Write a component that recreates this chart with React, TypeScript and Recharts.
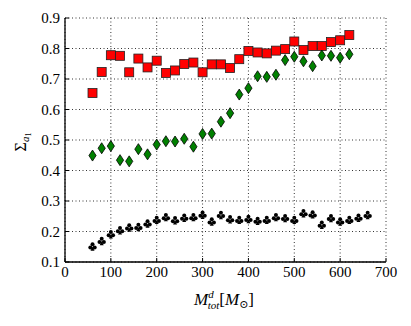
import { ScatterChart, Scatter, XAxis, YAxis, CartesianGrid } from 'recharts'

// red squares
const massRed = [60, 80, 100, 120, 140, 160, 180, 200, 220, 240, 260, 280, 300, 320, 340, 360, 380, 400, 420, 440, 460, 480, 500, 520, 540, 560, 580, 600, 620]
const sigmaRed = [0.654, 0.723, 0.778, 0.776, 0.722, 0.767, 0.738, 0.76, 0.72, 0.728, 0.749, 0.754, 0.722, 0.748, 0.748, 0.736, 0.765, 0.792, 0.787, 0.784, 0.793, 0.798, 0.823, 0.795, 0.808, 0.808, 0.821, 0.827, 0.844]

// green diamonds
const massGreen = [60, 80, 100, 120, 140, 160, 180, 200, 220, 240, 260, 280, 300, 320, 340, 360, 380, 400, 420, 440, 460, 480, 500, 520, 540, 560, 580, 600, 620]
const sigmaGreen = [0.449, 0.473, 0.48, 0.434, 0.43, 0.47, 0.453, 0.485, 0.496, 0.495, 0.504, 0.478, 0.52, 0.521, 0.56, 0.588, 0.649, 0.67, 0.709, 0.707, 0.714, 0.762, 0.773, 0.758, 0.742, 0.777, 0.776, 0.77, 0.781]

// black clubs
const massBlack = [60, 80, 100, 120, 140, 160, 180, 200, 220, 240, 260, 280, 300, 320, 340, 360, 380, 400, 420, 440, 460, 480, 500, 520, 540, 560, 580, 600, 620, 640, 660]
const sigmaBlack = [0.151, 0.169, 0.191, 0.204, 0.213, 0.215, 0.226, 0.238, 0.247, 0.237, 0.245, 0.247, 0.255, 0.233, 0.254, 0.24, 0.238, 0.241, 0.235, 0.238, 0.247, 0.244, 0.238, 0.26, 0.256, 0.222, 0.244, 0.233, 0.238, 0.245, 0.254]

const xTicks = [0, 100, 200, 300, 400, 500, 600, 700]
const yTicks = [0.1, 0.2, 0.3, 0.4, 0.5, 0.6, 0.7, 0.8, 0.9]

const toPoints = (xs: number[], ys: number[]) => xs.map((x, i) => ({ x, y: ys[i] }))

const FONT = "'Liberation Serif', 'Times New Roman', 'DejaVu Serif', serif"

const Square = (props: any) => {
  const { cx, cy } = props
  return <rect x={cx - 4.5} y={cy - 4.5} width={9} height={9} fill="#ff0000" stroke="#222" strokeWidth={0.8} />
}

const Diamond = (props: any) => {
  const { cx, cy } = props
  return (
    <polygon
      points={`${cx},${cy - 5.5} ${cx + 3.6},${cy} ${cx},${cy + 5.5} ${cx - 3.6},${cy}`}
      fill="#008000"
      stroke="#000"
      strokeWidth={0.8}
    />
  )
}

const Club = (props: any) => {
  const { cx, cy } = props
  return (
    <g fill="#000">
      <circle cx={cx} cy={cy - 2.2} r={2} />
      <circle cx={cx - 2.2} cy={cy + 1} r={2} />
      <circle cx={cx + 2.2} cy={cy + 1} r={2} />
      <polygon points={`${cx},${cy} ${cx - 2},${cy + 4.2} ${cx + 2},${cy + 4.2}`} />
    </g>
  )
}

const XLabel = () => (
  <text x={224} y={305} textAnchor="middle" style={{ fontFamily: FONT }} fontSize={17} fill="#000">
    <tspan fontStyle="italic">M</tspan>
    <tspan fontStyle="italic" fontSize={11} dy={-7}>d</tspan>
    <tspan fontStyle="italic" fontSize={11} dx={-6} dy={11}>tot</tspan>
    <tspan dy={-4}>[</tspan>
    <tspan fontStyle="italic">M</tspan>
    <tspan fontSize={11} dy={3}>⊙</tspan>
    <tspan dy={-3}>]</tspan>
  </text>
)

const YLabel = () => (
  <text x={0} y={0} transform="translate(26,142) rotate(-90)" textAnchor="middle" style={{ fontFamily: FONT }} fontSize={16} fill="#000">
    <tspan>Σ</tspan>
    <tspan fontStyle="italic" fontSize={11} dy={3}>a</tspan>
    <tspan fontSize={8} dy={2}>1</tspan>
  </text>
)

export default function App() {
  const tickStyle = { fontSize: 15, fill: '#000', style: { fontFamily: FONT } }
  const line = { stroke: '#000', strokeWidth: 1.3 }
  return (
    <div style={{ position: 'absolute', left: 0, top: 0, width: 411, height: 326, background: '#fff', fontFamily: FONT }}>
      <ScatterChart width={411} height={326} margin={{ top: 18, right: 25, bottom: 0, left: 0 }}>
        <CartesianGrid
          xAxisId="bottom"
          yAxisId="left"
          stroke="#000"
          strokeWidth={0.8}
          strokeDasharray="1 2.5"
          horizontalValues={yTicks}
          verticalValues={xTicks}
        />
        <XAxis
          xAxisId="bottom"
          type="number"
          dataKey="x"
          domain={[0, 700]}
          ticks={xTicks}
          height={64}
          stroke="#000"
          tickSize={-4}
          tickMargin={8}
          tick={tickStyle}
          axisLine={line}
          tickLine={{ stroke: '#000' }}
          label={<XLabel />}
        />
        <XAxis
          xAxisId="top"
          orientation="top"
          type="number"
          dataKey="x"
          domain={[0, 700]}
          ticks={xTicks}
          height={0}
          stroke="#000"
          tickSize={-4}
          tick={false}
          axisLine={line}
          tickLine={{ stroke: '#000' }}
        />
        <YAxis
          yAxisId="left"
          type="number"
          dataKey="y"
          domain={[0.1, 0.9]}
          ticks={yTicks}
          width={65}
          stroke="#000"
          tickSize={-4}
          tickMargin={9}
          tick={tickStyle}
          tickFormatter={(v: number) => v.toFixed(1)}
          axisLine={line}
          tickLine={{ stroke: '#000' }}
          label={<YLabel />}
        />
        <YAxis
          yAxisId="right"
          orientation="right"
          type="number"
          dataKey="y"
          domain={[0.1, 0.9]}
          ticks={yTicks}
          width={0}
          stroke="#000"
          tickSize={-4}
          tick={false}
          axisLine={line}
          tickLine={{ stroke: '#000' }}
        />
        <Scatter xAxisId="bottom" yAxisId="left" data={toPoints(massRed, sigmaRed)} shape={<Square />} isAnimationActive={false} />
        <Scatter xAxisId="bottom" yAxisId="left" data={toPoints(massGreen, sigmaGreen)} shape={<Diamond />} isAnimationActive={false} />
        <Scatter xAxisId="bottom" yAxisId="left" data={toPoints(massBlack, sigmaBlack)} shape={<Club />} isAnimationActive={false} />
      </ScatterChart>
    </div>
  )
}
